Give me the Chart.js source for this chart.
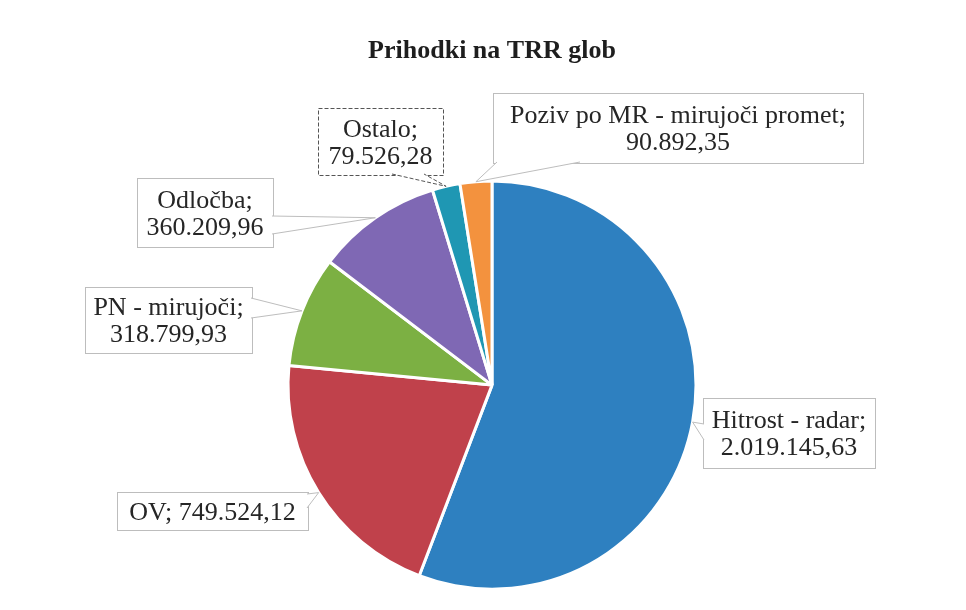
<!DOCTYPE html>
<html>
<head>
<meta charset="utf-8">
<title>Prihodki na TRR glob</title>
<script src="https://cdn.jsdelivr.net/npm/chart.js@4.4.0/dist/chart.umd.min.js"></script>
<style>
    html, body { margin: 0; padding: 0; background: #fff; }
    #wrap { width: 966px; height: 610px; }
</style>
</head>
<body>
<div id="wrap"><canvas id="trrChart" width="966" height="610"></canvas></div>
<script>
// Data (clockwise from 12 o'clock)
const categories = ['Hitrost - radar', 'OV', 'PN - mirujoči', 'Odločba', 'Ostalo', 'Poziv po MR - mirujoči promet'];
const amounts = [2019145.63, 749524.12, 318799.93, 360209.96, 79526.28, 90892.35];
const sliceColors = ['#2e80c0', '#c0414b', '#7cb043', '#7f68b4', '#1f97b3', '#f3923e'];

// Callout boxes - layout only, same order as categories
const calloutBoxes = [
    { x: 703, y: 398, w: 172, h: 70, side: 'left', base: [424, 440] },
    { x: 117, y: 492, w: 191, h: 38, side: 'right', base: [494, 508], oneLine: true },
    { x: 85, y: 287, w: 167, h: 66, side: 'right', base: [298, 318] },
    { x: 137, y: 178, w: 136, h: 69, side: 'right', base: [216, 234] },
    { x: 318, y: 108, w: 125, h: 67, side: 'bottom', base: [392, 424], dashed: true },
    { x: 493, y: 93, w: 370, h: 70, side: 'bottom', base: [497, 580] }
];

// Slovenian number format: 2.019.145,63
function fmtSl(v) {
    const parts = v.toFixed(2).split('.');
    return parts[0].replace(/\B(?=(\d{3})+(?!\d))/g, '.') + ',' + parts[1];
}

const calloutPlugin = {
    id: 'callouts',
    afterDatasetsDraw(chart) {
        const ctx = chart.ctx;
        const arcs = chart.getDatasetMeta(0).data;
        ctx.save();
        arcs.forEach((arc, i) => {
            const box = calloutBoxes[i];
            const p = arc.getProps(['x', 'y', 'startAngle', 'endAngle', 'outerRadius'], true);
            const mid = (p.startAngle + p.endAngle) / 2;
            const tipX = p.x + Math.cos(mid) * p.outerRadius;
            const tipY = p.y + Math.sin(mid) * p.outerRadius;

            // wedge base points, 1px inside the box edge
            let b1, b2;
            if (box.side === 'left') {
                b1 = [box.x + 1, box.base[0]]; b2 = [box.x + 1, box.base[1]];
            } else if (box.side === 'right') {
                b1 = [box.x + box.w - 1, box.base[0]]; b2 = [box.x + box.w - 1, box.base[1]];
            } else {
                b1 = [box.base[0], box.y + box.h - 1]; b2 = [box.base[1], box.y + box.h - 1];
            }

            ctx.lineWidth = 1;
            ctx.strokeStyle = box.dashed ? '#555' : '#bdbdbd';
            ctx.setLineDash(box.dashed ? [4, 2] : []);
            ctx.fillStyle = '#fff';
            ctx.fillRect(box.x, box.y, box.w, box.h);
            ctx.strokeRect(box.x + 0.5, box.y + 0.5, box.w, box.h);

            ctx.beginPath();
            ctx.moveTo(b1[0], b1[1]);
            ctx.lineTo(tipX, tipY);
            ctx.lineTo(b2[0], b2[1]);
            ctx.closePath();
            ctx.fill();

            ctx.beginPath();
            ctx.moveTo(b1[0], b1[1]);
            ctx.lineTo(tipX, tipY);
            ctx.lineTo(b2[0], b2[1]);
            ctx.stroke();

            // label text
            const value = fmtSl(amounts[i]);
            const lines = box.oneLine
                ? [categories[i] + '; ' + value]
                : [categories[i] + ';', value];
            ctx.setLineDash([]);
            ctx.fillStyle = '#262626';
            ctx.font = '26px "Liberation Serif", "Times New Roman", serif';
            ctx.textAlign = 'center';
            ctx.textBaseline = 'alphabetic';
            const cx = box.x + box.w / 2;
            const cy = box.y + box.h / 2;
            lines.forEach((t, j) => {
                ctx.fillText(t, cx, cy + (j - (lines.length - 1) / 2) * 27 + 8.5);
            });
        });
        ctx.restore();
    }
};

document.addEventListener('DOMContentLoaded', function() {
    const canvas = document.getElementById('trrChart');
    new Chart(canvas.getContext('2d'), {
        type: 'pie',
        data: {
            labels: categories,
            datasets: [{
                data: amounts,
                backgroundColor: sliceColors,
                borderColor: '#ffffff',
                borderWidth: 3,
                hoverOffset: 0,
                radius: 204
            }]
        },
        options: {
            responsive: false,
            animation: false,
            layout: {
                padding: { left: 282, right: 264, top: 0, bottom: 15 }
            },
            plugins: {
                legend: { display: false },
                tooltip: { enabled: false },
                title: {
                    display: true,
                    text: 'Prihodki na TRR glob',
                    color: '#1e1e1e',
                    font: { family: '"Liberation Serif", "Times New Roman", serif', size: 26, weight: 'bold', lineHeight: 1.2 },
                    padding: { top: 36, bottom: 108 }
                }
            }
        },
        plugins: [calloutPlugin]
    });
});
</script>
</body>
</html>
